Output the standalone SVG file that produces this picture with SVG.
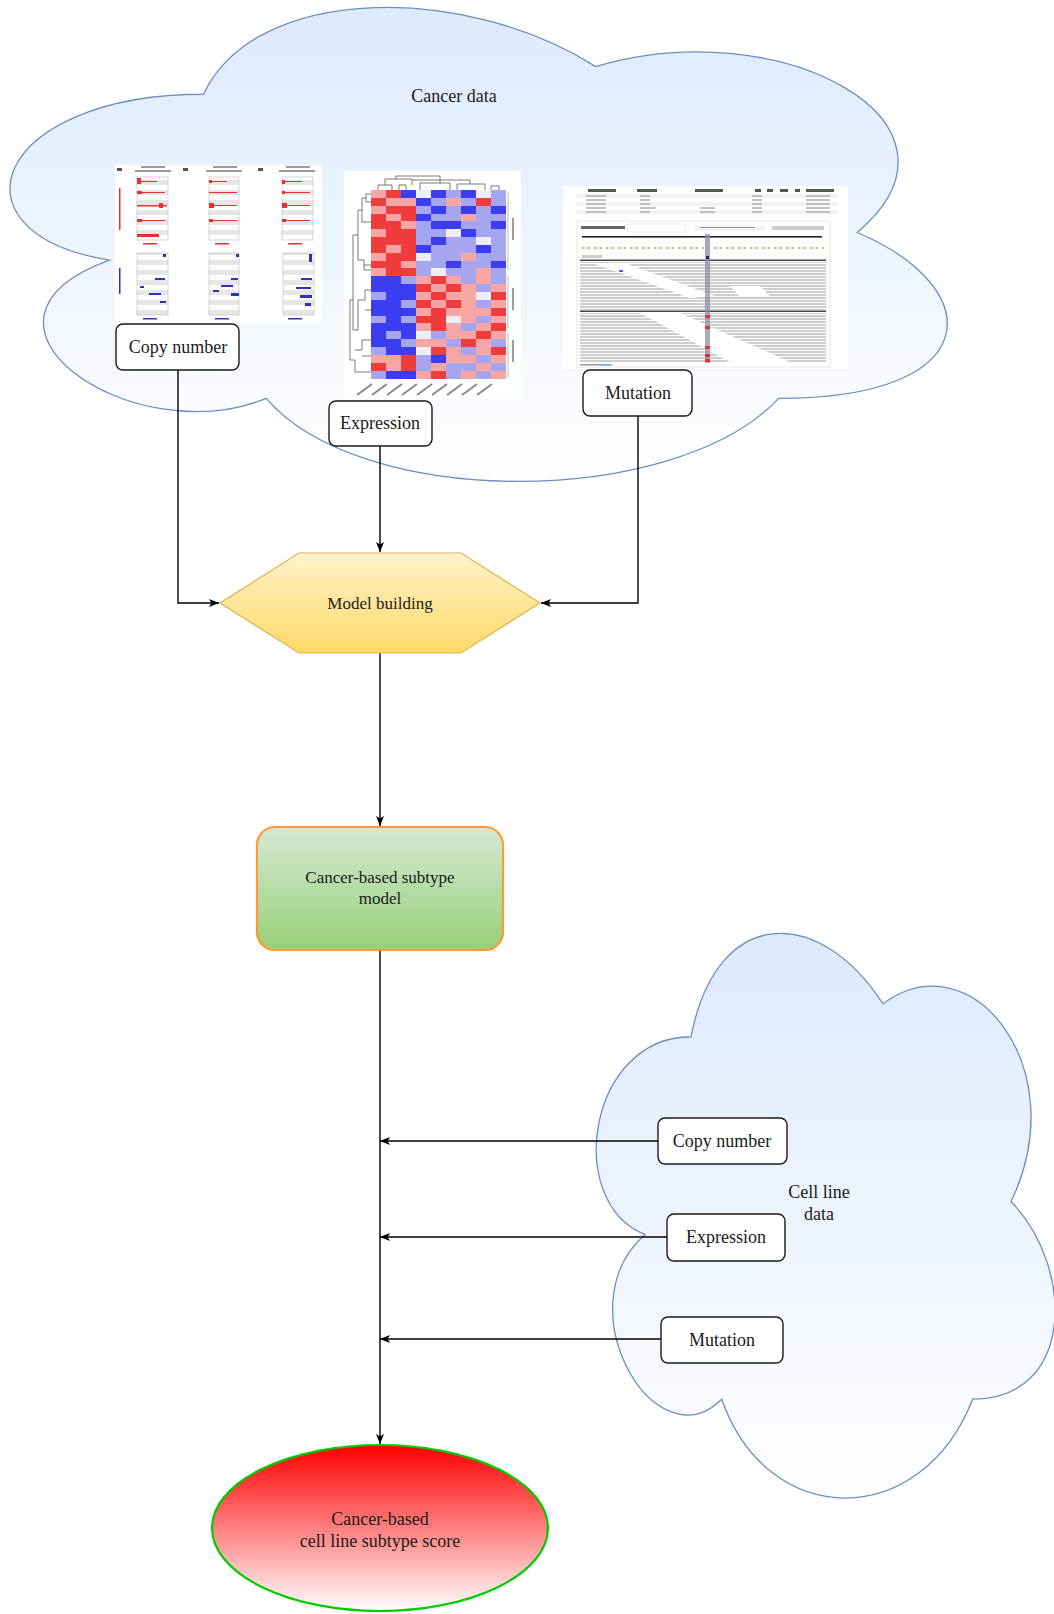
<svg xmlns="http://www.w3.org/2000/svg" width="1054" height="1614" viewBox="0 0 1054 1614">
<style>
text{font-family:"Liberation Serif","Times New Roman",serif;fill:#1a1a1a;text-anchor:middle;dominant-baseline:central}
.t18{font-size:18px}
.t17{font-size:17px}
.cloud{stroke:#6c8ebf;stroke-width:1.3}
.box{fill:#ffffff;stroke:#1a1a1a;stroke-width:1.4}
.conn{fill:none;stroke:#000;stroke-width:1.4;marker-end:url(#arr)}
.hm rect{width:15px;height:8px}
.R{fill:#f03c3c}.r{fill:#f7a5a5}.w{fill:#eeeef8}.b{fill:#a5a5f0}.B{fill:#3c3cf0}
.tiny{fill:#9a9a9a}
.dk{fill:#555}
.chart{fill:url(#cnbg);stroke:#bbb;stroke-width:.6}
.red{fill:#e83030}
.blu{fill:#3030c0}
.dl{fill:none;stroke:#444;stroke-width:.7}
</style>
<defs>
<linearGradient id="gCancer" gradientUnits="userSpaceOnUse" x1="0" y1="-44" x2="0" y2="509">
<stop offset="0" stop-color="#dae8fc"/><stop offset="1" stop-color="#ffffff"/>
</linearGradient>
<linearGradient id="gCell" gradientUnits="userSpaceOnUse" x1="0" y1="872" x2="0" y2="1531">
<stop offset="0" stop-color="#dae8fc"/><stop offset="1" stop-color="#ffffff"/>
</linearGradient>
<linearGradient id="gHex" x1="0" y1="0" x2="0" y2="1">
<stop offset="0" stop-color="#fff2cc"/><stop offset="1" stop-color="#ffd966"/>
</linearGradient>
<linearGradient id="gGreen" x1="0" y1="0" x2="0" y2="1">
<stop offset="0" stop-color="#d5e8d4"/><stop offset="1" stop-color="#97d077"/>
</linearGradient>
<linearGradient id="gRed" x1="0" y1="0" x2="0" y2="1">
<stop offset="0" stop-color="#ff0000"/><stop offset="1" stop-color="#ffffff"/>
</linearGradient>
<pattern id="reads" width="6" height="3" patternUnits="userSpaceOnUse">
<rect width="6" height="3" fill="#ffffff"/><rect width="6" height="2" fill="#cdcdcd"/>
</pattern>
<pattern id="cnbg" width="10" height="10" patternUnits="userSpaceOnUse">
<rect width="10" height="10" fill="#ffffff"/><rect width="10" height="5" fill="#e6e6e6"/>
</pattern>
<marker id="arr" viewBox="0 0 10 8" refX="10" refY="4" markerWidth="10" markerHeight="8" markerUnits="userSpaceOnUse" orient="auto">
<path d="M0,0 L10,4 L0,8 L2.5,4 Z" fill="#000"/>
</marker>
</defs>
<rect width="1054" height="1614" fill="#ffffff"/>

<g id="cancer-data">
<path class="cloud" fill="url(#gCancer)" d="M203.5,94.25 C-5.7,94.25 -58,232.5 109.36,260.15 C-58,320.98 130.28,453.7 266.26,398.4 C360.4,509 674.2,509 778.8,398.4 C988,398.4 988,287.8 857.25,232.5 C988,121.9 778.8,11.3 595.75,66.6 C465,-16.35 255.8,-16.35 203.5,94.25 Z"/>
<text class="t18" x="454" y="96">Cancer data</text>
</g>

<g id="cell-line-data">
<path class="cloud" fill="url(#gCell)" d="M691,1036.75 C588.6,1036.75 563,1201.5 644.92,1234.45 C563,1306.94 655.16,1465.1 721.72,1399.2 C767.8,1531 921.4,1531 972.6,1399.2 C1075,1399.2 1075,1267.4 1011,1201.5 C1075,1069.7 972.6,937.9 883,1003.8 C819,904.95 716.6,904.95 691,1036.75 Z"/>
<text class="t18" x="819" y="1192">Cell line</text>
<text class="t18" x="819" y="1214">data</text>
</g>

<g id="copy-number-figure">
<rect x="115" y="165" width="207" height="158" fill="#ffffff"/>
<rect class="dk" x="117" y="168" width="5" height="3"/><rect class="dk" x="183" y="168" width="5" height="3"/><rect class="dk" x="258" y="168" width="5" height="3"/>
<rect class="tiny" x="141" y="166" width="24" height="2"/><rect class="tiny" x="135" y="170" width="36" height="2"/>
<rect class="tiny" x="213" y="166" width="24" height="2"/><rect class="tiny" x="206" y="170" width="36" height="2"/>
<rect class="tiny" x="286" y="166" width="24" height="2"/><rect class="tiny" x="279" y="170" width="36" height="2"/>
<rect class="red" x="119" y="188" width="1.5" height="42"/>
<rect class="blu" x="119" y="268" width="1.5" height="26"/>
<rect class="chart" x="137" y="177" width="31" height="63"/>
<rect class="chart" x="209" y="177" width="30" height="63"/>
<rect class="chart" x="282" y="177" width="31" height="63"/>
<rect class="red" x="137" y="178" width="4" height="6"/><rect class="red" x="137" y="181" width="20" height="1"/>
<rect class="red" x="137" y="191" width="5" height="3"/><rect class="red" x="137" y="192" width="28" height="1"/>
<rect class="red" x="137" y="205" width="30" height="1.5"/><rect class="red" x="159" y="203" width="4" height="5"/>
<rect class="red" x="137" y="219" width="5" height="3"/><rect class="red" x="137" y="220" width="28" height="1"/>
<rect class="red" x="137" y="234" width="22" height="3"/>
<rect class="red" x="209" y="180" width="3" height="3"/><rect class="red" x="209" y="181" width="18" height="1"/>
<rect class="red" x="209" y="192" width="28" height="1"/>
<rect class="red" x="209" y="203" width="5" height="5"/><rect class="red" x="209" y="205" width="28" height="1"/>
<rect class="red" x="209" y="219" width="4" height="3"/><rect class="red" x="209" y="220" width="28" height="1"/>
<rect class="red" x="282" y="180" width="3" height="4"/><rect class="red" x="282" y="181" width="20" height="1"/>
<rect class="red" x="282" y="191" width="3" height="3"/><rect class="red" x="282" y="192" width="28" height="1"/>
<rect class="red" x="282" y="203" width="5" height="5"/><rect class="red" x="282" y="205" width="28" height="1"/>
<rect class="red" x="282" y="219" width="4" height="3"/><rect class="red" x="282" y="220" width="28" height="1"/>
<rect class="red" x="143" y="243" width="14" height="1.5"/><rect class="red" x="215" y="243" width="14" height="1.5"/><rect class="red" x="288" y="243" width="14" height="1.5"/>
<rect class="chart" x="137" y="253" width="31" height="62"/>
<rect class="chart" x="209" y="253" width="30" height="62"/>
<rect class="chart" x="283" y="253" width="31" height="62"/>
<rect class="blu" x="163" y="254" width="3" height="3"/><rect class="blu" x="155" y="278" width="10" height="2"/><rect class="blu" x="140" y="286" width="4" height="2"/><rect class="blu" x="149" y="293" width="12" height="2"/><rect class="blu" x="160" y="301" width="6" height="2"/>
<rect class="blu" x="236" y="254" width="3" height="3"/><rect class="blu" x="231" y="278" width="7" height="2"/><rect class="blu" x="221" y="285" width="12" height="2"/><rect class="blu" x="213" y="290" width="6" height="2"/><rect class="blu" x="231" y="293" width="8" height="3"/>
<rect class="blu" x="309" y="254" width="3" height="8"/><rect class="blu" x="301" y="278" width="11" height="2"/><rect class="blu" x="296" y="287" width="15" height="2"/><rect class="blu" x="300" y="295" width="12" height="3"/><rect class="blu" x="305" y="303" width="6" height="3"/>
<rect class="blu" x="143" y="318" width="14" height="1.5"/><rect class="blu" x="215" y="318" width="14" height="1.5"/><rect class="blu" x="288" y="318" width="14" height="1.5"/>
</g>

<g id="expression-figure">
<rect x="344" y="171" width="177" height="228" fill="#ffffff"/>
<path class="dl" d="M378,190 V185 H392 V190 M385,185 V179 H412 V185 M399,190 V185 H406 V190 M420,190 V183 H450 V190 M457,190 V184 H485 V190 M470,184 V180 H412 M440,183 V176 H396 V179 M491,190 V186 H499 V190"/>
<path class="dl" d="M371,194 H366 V202 H371 M366,198 H362 V222 H371 M362,210 H358 V260 M358,235 H353 V330 H358 M358,260 H364 V270 H371 M364,265 H371 M358,330 V300 H365 V290 H371 M365,310 H371 M353,300 H350 V360 H355 V372 H371 M355,350 H362 V340 H371 M362,356 H371"/>
<g class="hm">
<rect class="r" x="371" y="190"/><rect class="R" x="386" y="190"/><rect class="B" x="401" y="190"/><rect class="w" x="416" y="190"/><rect class="B" x="431" y="190"/><rect class="b" x="446" y="190"/><rect class="B" x="461" y="190"/><rect class="w" x="476" y="190"/><rect class="b" x="491" y="190"/>
<rect class="R" x="371" y="198"/><rect class="r" x="386" y="198"/><rect class="r" x="401" y="198"/><rect class="B" x="416" y="198"/><rect class="b" x="431" y="198"/><rect class="r" x="446" y="198"/><rect class="b" x="461" y="198"/><rect class="R" x="476" y="198"/><rect class="b" x="491" y="198"/>
<rect class="r" x="371" y="206"/><rect class="R" x="386" y="206"/><rect class="R" x="401" y="206"/><rect class="b" x="416" y="206"/><rect class="B" x="431" y="206"/><rect class="b" x="446" y="206"/><rect class="B" x="461" y="206"/><rect class="b" x="476" y="206"/><rect class="B" x="491" y="206"/>
<rect class="R" x="371" y="214"/><rect class="r" x="386" y="214"/><rect class="R" x="401" y="214"/><rect class="B" x="416" y="214"/><rect class="b" x="431" y="214"/><rect class="b" x="446" y="214"/><rect class="r" x="461" y="214"/><rect class="b" x="476" y="214"/><rect class="b" x="491" y="214"/>
<rect class="R" x="371" y="221"/><rect class="R" x="386" y="221"/><rect class="r" x="401" y="221"/><rect class="b" x="416" y="221"/><rect class="B" x="431" y="221"/><rect class="B" x="446" y="221"/><rect class="b" x="461" y="221"/><rect class="b" x="476" y="221"/><rect class="B" x="491" y="221"/>
<rect class="r" x="371" y="229"/><rect class="R" x="386" y="229"/><rect class="R" x="401" y="229"/><rect class="b" x="416" y="229"/><rect class="b" x="431" y="229"/><rect class="w" x="446" y="229"/><rect class="B" x="461" y="229"/><rect class="b" x="476" y="229"/><rect class="b" x="491" y="229"/>
<rect class="R" x="371" y="237"/><rect class="R" x="386" y="237"/><rect class="R" x="401" y="237"/><rect class="b" x="416" y="237"/><rect class="B" x="431" y="237"/><rect class="b" x="446" y="237"/><rect class="b" x="461" y="237"/><rect class="w" x="476" y="237"/><rect class="b" x="491" y="237"/>
<rect class="R" x="371" y="245"/><rect class="r" x="386" y="245"/><rect class="R" x="401" y="245"/><rect class="B" x="416" y="245"/><rect class="b" x="431" y="245"/><rect class="b" x="446" y="245"/><rect class="b" x="461" y="245"/><rect class="B" x="476" y="245"/><rect class="b" x="491" y="245"/>
<rect class="r" x="371" y="253"/><rect class="R" x="386" y="253"/><rect class="R" x="401" y="253"/><rect class="w" x="416" y="253"/><rect class="b" x="431" y="253"/><rect class="b" x="446" y="253"/><rect class="r" x="461" y="253"/><rect class="b" x="476" y="253"/><rect class="b" x="491" y="253"/>
<rect class="R" x="371" y="261"/><rect class="R" x="386" y="261"/><rect class="r" x="401" y="261"/><rect class="b" x="416" y="261"/><rect class="b" x="431" y="261"/><rect class="B" x="446" y="261"/><rect class="b" x="461" y="261"/><rect class="b" x="476" y="261"/><rect class="B" x="491" y="261"/>
<rect class="r" x="371" y="268"/><rect class="R" x="386" y="268"/><rect class="R" x="401" y="268"/><rect class="b" x="416" y="268"/><rect class="w" x="431" y="268"/><rect class="b" x="446" y="268"/><rect class="b" x="461" y="268"/><rect class="r" x="476" y="268"/><rect class="b" x="491" y="268"/>
<rect class="B" x="371" y="276"/><rect class="B" x="386" y="276"/><rect class="b" x="401" y="276"/><rect class="r" x="416" y="276"/><rect class="R" x="431" y="276"/><rect class="r" x="446" y="276"/><rect class="b" x="461" y="276"/><rect class="r" x="476" y="276"/><rect class="b" x="491" y="276"/>
<rect class="B" x="371" y="284"/><rect class="B" x="386" y="284"/><rect class="B" x="401" y="284"/><rect class="R" x="416" y="284"/><rect class="r" x="431" y="284"/><rect class="R" x="446" y="284"/><rect class="r" x="461" y="284"/><rect class="b" x="476" y="284"/><rect class="r" x="491" y="284"/>
<rect class="b" x="371" y="292"/><rect class="B" x="386" y="292"/><rect class="B" x="401" y="292"/><rect class="r" x="416" y="292"/><rect class="R" x="431" y="292"/><rect class="r" x="446" y="292"/><rect class="r" x="461" y="292"/><rect class="w" x="476" y="292"/><rect class="R" x="491" y="292"/>
<rect class="B" x="371" y="300"/><rect class="B" x="386" y="300"/><rect class="b" x="401" y="300"/><rect class="R" x="416" y="300"/><rect class="r" x="431" y="300"/><rect class="R" x="446" y="300"/><rect class="r" x="461" y="300"/><rect class="b" x="476" y="300"/><rect class="r" x="491" y="300"/>
<rect class="B" x="371" y="308"/><rect class="B" x="386" y="308"/><rect class="B" x="401" y="308"/><rect class="r" x="416" y="308"/><rect class="R" x="431" y="308"/><rect class="r" x="446" y="308"/><rect class="r" x="461" y="308"/><rect class="r" x="476" y="308"/><rect class="R" x="491" y="308"/>
<rect class="b" x="371" y="316"/><rect class="B" x="386" y="316"/><rect class="b" x="401" y="316"/><rect class="R" x="416" y="316"/><rect class="R" x="431" y="316"/><rect class="w" x="446" y="316"/><rect class="r" x="461" y="316"/><rect class="b" x="476" y="316"/><rect class="r" x="491" y="316"/>
<rect class="B" x="371" y="323"/><rect class="B" x="386" y="323"/><rect class="B" x="401" y="323"/><rect class="r" x="416" y="323"/><rect class="R" x="431" y="323"/><rect class="r" x="446" y="323"/><rect class="b" x="461" y="323"/><rect class="r" x="476" y="323"/><rect class="R" x="491" y="323"/>
<rect class="B" x="371" y="331"/><rect class="b" x="386" y="331"/><rect class="B" x="401" y="331"/><rect class="w" x="416" y="331"/><rect class="b" x="431" y="331"/><rect class="r" x="446" y="331"/><rect class="r" x="461" y="331"/><rect class="R" x="476" y="331"/><rect class="r" x="491" y="331"/>
<rect class="B" x="371" y="339"/><rect class="B" x="386" y="339"/><rect class="b" x="401" y="339"/><rect class="r" x="416" y="339"/><rect class="r" x="431" y="339"/><rect class="b" x="446" y="339"/><rect class="R" x="461" y="339"/><rect class="r" x="476" y="339"/><rect class="b" x="491" y="339"/>
<rect class="b" x="371" y="347"/><rect class="B" x="386" y="347"/><rect class="B" x="401" y="347"/><rect class="w" x="416" y="347"/><rect class="R" x="431" y="347"/><rect class="r" x="446" y="347"/><rect class="b" x="461" y="347"/><rect class="r" x="476" y="347"/><rect class="R" x="491" y="347"/>
<rect class="r" x="371" y="355"/><rect class="r" x="386" y="355"/><rect class="R" x="401" y="355"/><rect class="b" x="416" y="355"/><rect class="B" x="431" y="355"/><rect class="r" x="446" y="355"/><rect class="r" x="461" y="355"/><rect class="b" x="476" y="355"/><rect class="r" x="491" y="355"/>
<rect class="R" x="371" y="363"/><rect class="r" x="386" y="363"/><rect class="R" x="401" y="363"/><rect class="b" x="416" y="363"/><rect class="r" x="431" y="363"/><rect class="b" x="446" y="363"/><rect class="b" x="461" y="363"/><rect class="r" x="476" y="363"/><rect class="b" x="491" y="363"/>
<rect class="b" x="371" y="371"/><rect class="B" x="386" y="371"/><rect class="B" x="401" y="371"/><rect class="r" x="416" y="371"/><rect class="R" x="431" y="371"/><rect class="b" x="446" y="371"/><rect class="r" x="461" y="371"/><rect class="b" x="476" y="371"/><rect class="r" x="491" y="371"/>
</g>
<path d="M508,192 V270 M508,275 V328 M508,333 V378" stroke="#aaa" stroke-width=".8" fill="none"/>
<rect class="tiny" x="512" y="218" width="2" height="22"/><rect class="tiny" x="512" y="288" width="2" height="22"/><rect class="tiny" x="512" y="340" width="2" height="22"/>
<path d="M357,395 L372,384 M372,395 L387,384 M387,395 L402,384 M402,395 L417,384 M417,395 L432,384 M432,395 L447,384 M447,395 L462,384 M462,395 L477,384 M477,395 L492,384" stroke="#888" stroke-width="2" fill="none"/>
</g>

<g id="mutation-figure">
<rect x="563" y="186" width="285" height="183" fill="#ffffff"/>
<rect class="dk" x="588" y="189" width="28" height="3"/><rect class="dk" x="637" y="189" width="20" height="3"/><rect class="dk" x="695" y="189" width="28" height="3"/><rect class="dk" x="755" y="189" width="6" height="3"/><rect class="dk" x="767" y="189" width="6" height="3"/><rect class="dk" x="780" y="189" width="8" height="3"/><rect class="dk" x="795" y="189" width="5" height="3"/><rect class="dk" x="806" y="189" width="28" height="3"/>
<rect x="576" y="194" width="262" height="4" fill="#f3f3f3"/><rect x="576" y="202" width="262" height="4" fill="#f3f3f3"/><rect x="576" y="210" width="262" height="4" fill="#f3f3f3"/>
<path d="M586,196 H606 M640,196 H650 M752,196 H762 M806,196 H830 M586,200 H606 M640,200 H650 M752,200 H762 M806,200 H830 M586,204 H606 M640,204 H650 M752,204 H762 M806,204 H830 M586,208 H606 M640,208 H656 M700,208 H715 M752,208 H762 M806,208 H830 M586,212 H606 M640,212 H650 M700,212 H715 M752,212 H762 M806,212 H830" stroke="#b0b0b0" stroke-width="1.5" fill="none"/>
<rect x="577" y="221" width="253" height="146" fill="#ffffff" stroke="#e0e0e0" stroke-width=".8"/>
<rect x="581" y="226" width="44" height="3" fill="#666"/><rect x="628" y="224" width="58" height="8" fill="#fff" stroke="#ddd" stroke-width=".6"/><rect x="695" y="225" width="70" height="6" fill="#f4f4f4"/><rect x="700" y="227" width="55" height="1" fill="#999"/><rect x="772" y="226" width="52" height="4" fill="#ccc"/>
<rect x="582" y="236" width="240" height="1.6" fill="#222"/>
<path d="M582,248 H826" stroke="#9c9" stroke-width="2" stroke-dasharray="2 4" fill="none"/>
<path d="M585,248 H826" stroke="#fc9" stroke-width="2" stroke-dasharray="2 10" fill="none"/>
<rect x="582" y="255" width="20" height="3" fill="#ccc"/>
<rect x="580" y="262" width="246" height="48" fill="url(#reads)"/>
<path d="M592,263 L625,263 L715,296 L690,298 Z M730,286 L760,286 L770,296 L740,297 Z" fill="#ffffff"/>
<rect x="580" y="313" width="246" height="49" fill="url(#reads)"/>
<path d="M640,313 L680,313 L790,362 L730,362 Z" fill="#ffffff"/>
<rect x="580" y="259.5" width="246" height="1.5" fill="#444"/>
<rect x="580" y="310.5" width="246" height="1.5" fill="#444"/>
<rect x="705" y="234" width="5" height="129" fill="#8d8da8" opacity=".75"/>
<rect x="706" y="256" width="3" height="3" fill="#22226a"/>
<rect x="279" y="270" width="4" height="2" fill="#5a5aff" transform="translate(340,0)"/>
<rect class="red" x="705" y="315" width="5" height="3"/><rect class="red" x="705" y="326" width="5" height="3"/><rect class="red" x="705" y="346" width="5" height="3"/><rect class="red" x="705" y="354" width="5" height="3"/><rect class="red" x="705" y="359" width="5" height="3"/>
<rect class="tiny" x="580" y="364" width="30" height="1.5"/><rect x="600" y="364" width="12" height="1.5" fill="#7aaee8"/>
</g>

<g id="connectors">
<path class="conn" d="M178,370 V603 H219"/>
<path class="conn" d="M380,446 V552"/>
<path class="conn" d="M638,416 V603 H541"/>
<path class="conn" d="M380,653 V826"/>
<path class="conn" d="M380,950 V1444"/>
<path class="conn" d="M658,1141 H380"/>
<path class="conn" d="M667,1237 H380"/>
<path class="conn" d="M661,1339 H380"/>
</g>

<g id="cancer-copy-number">
<rect class="box" x="116" y="324" width="123" height="46" rx="7"/>
<text class="t18" x="178" y="347">Copy number</text>
</g>
<g id="cancer-expression">
<rect class="box" x="329" y="401" width="103" height="45" rx="7"/>
<text class="t18" x="380" y="423">Expression</text>
</g>
<g id="cancer-mutation">
<rect class="box" x="583" y="370" width="109" height="46" rx="7"/>
<text class="t18" x="638" y="393">Mutation</text>
</g>

<g id="model-building">
<polygon points="220,603 299,553 461,553 540,603 461,653 299,653" fill="url(#gHex)" stroke="#d6b656" stroke-width="1.2"/>
<text class="t17" x="380" y="603">Model building</text>
</g>

<g id="subtype-model">
<rect x="257" y="827" width="246" height="123" rx="18" fill="url(#gGreen)" stroke="#ff9933" stroke-width="2.2"/>
<text class="t17" x="380" y="877">Cancer-based subtype</text>
<text class="t17" x="380" y="898">model</text>
</g>

<g id="cell-copy-number">
<rect class="box" x="658" y="1118" width="129" height="46" rx="7"/>
<text class="t18" x="722" y="1141">Copy number</text>
</g>
<g id="cell-expression">
<rect class="box" x="667" y="1214" width="118" height="47" rx="7"/>
<text class="t18" x="726" y="1237">Expression</text>
</g>
<g id="cell-mutation">
<rect class="box" x="661" y="1317" width="122" height="46" rx="7"/>
<text class="t18" x="722" y="1340">Mutation</text>
</g>

<g id="subtype-score">
<ellipse cx="380" cy="1528" rx="168" ry="83" fill="url(#gRed)" stroke="#00cc00" stroke-width="2.2"/>
<text class="t18" x="380" y="1519">Cancer-based</text>
<text class="t18" x="380" y="1541">cell line subtype score</text>
</g>
</svg>
